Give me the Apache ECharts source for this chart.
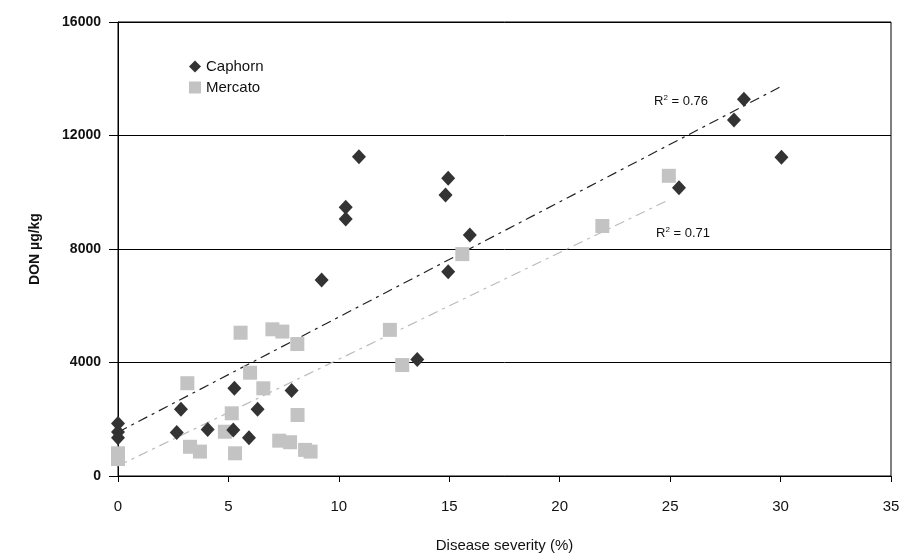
<!DOCTYPE html>
<html>
<head>
<meta charset="utf-8">
<script src="https://cdn.jsdelivr.net/npm/echarts@6/dist/echarts.min.js"></script>
<style>
html,body{margin:0;padding:0;background:#fff;}
#chart{width:903px;height:559px;}
</style>
</head>
<body>
<div id="chart"></div>
<script>
// values: [disease severity %, DON µg/kg]
var caphorn = [
  [0, 1850], [0, 1550], [0, 1350], [2.66, 1530], [2.85, 2350], [4.06, 1640],
  [5.22, 1620], [5.27, 3090], [5.93, 1350], [6.32, 2350], [7.86, 3010],
  [9.22, 6910], [10.31, 9470], [10.31, 9060], [10.91, 11250], [13.55, 4110],
  [14.83, 9900], [14.95, 10490], [14.95, 7200], [15.93, 8490], [25.4, 10160],
  [27.89, 12550], [28.34, 13280], [30.04, 11230]
];
var mercato = [
  [0, 800], [0, 600], [3.14, 3270], [3.26, 1030], [3.71, 860], [4.84, 1560],
  [5.15, 2210], [5.30, 800], [5.55, 5050], [5.98, 3640], [6.58, 3090],
  [6.99, 5170], [7.44, 5090], [7.30, 1245], [7.79, 1190], [8.12, 4650],
  [8.13, 2150], [8.47, 920], [8.72, 860], [12.31, 5150], [12.87, 3910],
  [15.59, 7820], [21.93, 8810], [24.94, 10580]
];
// trend line ends, as drawn
var caphornTrend = [[0, 1545], [30.04, 13735]];
var mercatoTrend = [[0, 356], [24.94, 9733]];
var r2Labels = ['0.76', '0.71'];

var myChart = echarts.init(document.getElementById('chart'));
var font = 'Liberation Sans, Arial, sans-serif';
var r2Rich = {
  r: {fontFamily: font, fontSize: 13, fill: '#111'},
  s: {fontFamily: font, fontSize: 8, fill: '#111', verticalAlign: 'top', padding: [0, 0, 7, 0]}
};

var option = {
  animation: false,
  grid: {left: 118, right: 12, top: 22, bottom: 83, show: true, borderColor: '#000', borderWidth: 1},
  legend: {
    orient: 'vertical', left: 184, top: 54, itemGap: 6, itemWidth: 12, itemHeight: 12,
    textStyle: {fontFamily: font, fontSize: 15, color: '#111'},
    data: [{name: 'Caphorn', icon: 'diamond'}, {name: 'Mercato', icon: 'rect'}]
  },
  xAxis: {
    type: 'value', min: 0, max: 35, interval: 5,
    name: 'Disease severity (%)', nameLocation: 'middle', nameGap: 62,
    nameTextStyle: {fontFamily: font, fontSize: 15, color: '#111'},
    axisLine: {onZero: false, lineStyle: {color: '#000', width: 1}},
    axisTick: {inside: false, length: 6, lineStyle: {color: '#000'}},
    axisLabel: {margin: 23, fontFamily: font, fontSize: 15, color: '#111'},
    splitLine: {show: false}
  },
  yAxis: {
    type: 'value', min: 0, max: 16000, interval: 4000,
    name: 'DON µg/kg', nameLocation: 'middle', nameGap: 76,
    nameTextStyle: {fontFamily: font, fontSize: 14, fontWeight: 'bold', color: '#111'},
    axisLine: {lineStyle: {color: '#000', width: 1}},
    axisTick: {inside: false, length: 9, lineStyle: {color: '#000'}},
    axisLabel: {margin: 17, fontFamily: font, fontSize: 14, fontWeight: 'bold', color: '#111',
      formatter: function (v) { return String(v); }},
    splitLine: {show: true, lineStyle: {color: '#000', width: 1}}
  },
  graphic: [
    {type: 'text', left: 654, top: 94, style: {text: '{r|R}{s|2}{r| = ' + r2Labels[0] + '}', rich: r2Rich}},
    {type: 'text', left: 656, top: 226, style: {text: '{r|R}{s|2}{r| = ' + r2Labels[1] + '}', rich: r2Rich}}
  ],
  series: [
    {
      name: 'Caphorn trend', type: 'line', data: caphornTrend, symbol: 'none', silent: true,
      lineStyle: {color: '#222', width: 1.2, type: [10, 5, 3, 5]}, z: 1
    },
    {
      name: 'Mercato trend', type: 'line', data: mercatoTrend, symbol: 'none', silent: true,
      lineStyle: {color: '#bbb', width: 1.2, type: [10, 5, 3, 5]}, z: 1
    },
    {
      name: 'Caphorn', type: 'scatter', data: caphorn, symbol: 'diamond', symbolSize: [14, 15],
      itemStyle: {color: '#333', opacity: 1}, z: 3
    },
    {
      name: 'Mercato', type: 'scatter', data: mercato, symbol: 'rect', symbolSize: 14,
      itemStyle: {color: '#c3c3c3', opacity: 1}, z: 2
    }
  ]
};
myChart.setOption(option);
</script>
</body>
</html>
